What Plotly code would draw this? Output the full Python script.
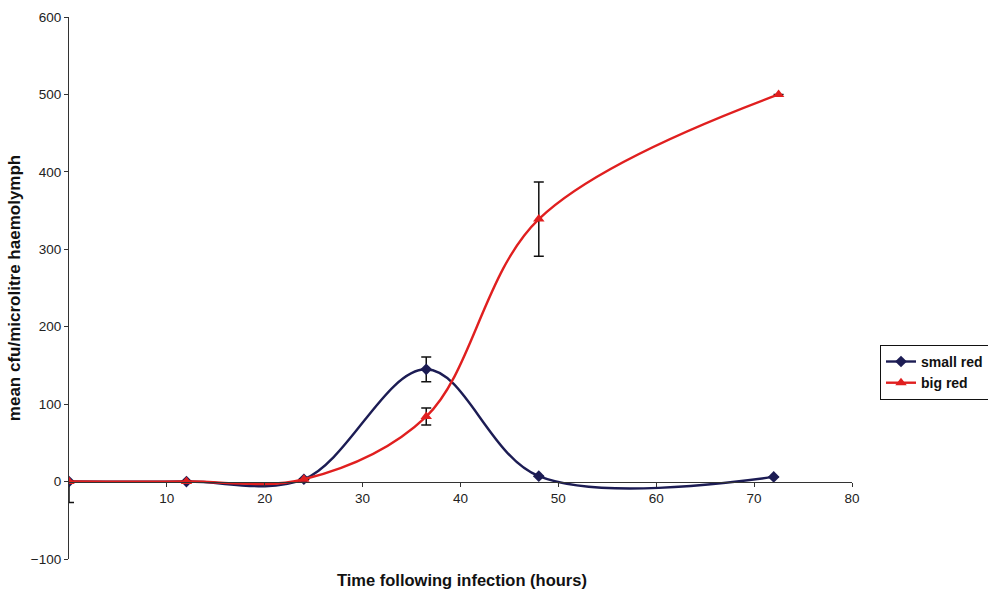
import plotly.graph_objects as go

hours_small = [0, 12, 24, 36.5, 48, 72]
small_red = [0, 0, 3, 145, 7, 6]
small_err_plus = [0, 0, 0, 16, 0, 0]
small_err_minus = [27, 0, 0, 16, 0, 0]

hours_big = [0, 12, 24, 36.5, 48, 72.5]
big_red = [0, 0, 3, 84, 339, 500]
big_err = [0, 0, 0, 11, 48, 0]

x_ticks = [10, 20, 30, 40, 50, 60, 70, 80]
y_ticks = [-100, 0, 100, 200, 300, 400, 500, 600]

NAVY = "#1c1c54"
RED = "#e01f1f"
FONT = "Liberation Sans, Arial, sans-serif"

fig = go.Figure()
fig.add_trace(go.Scatter(
    x=hours_small, y=small_red, name="small red", mode="lines+markers",
    line=dict(color=NAVY, width=2.4, shape="spline", smoothing=1.0),
    marker=dict(symbol="diamond", size=9, color=NAVY),
    error_y=dict(type="data", symmetric=False, array=small_err_plus,
                 arrayminus=small_err_minus, color="#111111", thickness=1.5, width=5),
))
fig.add_trace(go.Scatter(
    x=hours_big, y=big_red, name="big red", mode="lines+markers",
    line=dict(color=RED, width=2.4, shape="spline", smoothing=1.0),
    marker=dict(symbol="triangle-up", size=10, color=RED),
    error_y=dict(type="data", array=big_err, color="#111111", thickness=1.5, width=5),
))

zero_frac = 100 / 700

fig.update_layout(
    width=988, height=593,
    margin=dict(l=69, r=136, t=17, b=34, autoexpand=False),
    paper_bgcolor="white", plot_bgcolor="white",
    font=dict(family=FONT, size=13.5, color="#222222"),
    xaxis=dict(
        range=[0, 80], anchor="free", position=zero_frac,
        tickvals=x_ticks, ticktext=[str(v) for v in x_ticks],
        showline=True, linecolor="#333333", linewidth=1,
        ticks="outside", ticklen=4, tickcolor="#333333",
        showgrid=False, zeroline=False,
        tickfont=dict(size=13.5, family=FONT, color="#222222"),
    ),
    yaxis=dict(
        range=[-100, 600], tickvals=y_ticks,
        showline=True, linecolor="#333333", linewidth=1.2,
        ticks="outside", ticklen=4, tickcolor="#333333",
        showgrid=False, zeroline=False,
        tickfont=dict(size=13.5, family=FONT, color="#222222"),
        title=dict(text="<b>mean cfu/microlitre haemolymph</b>",
                   font=dict(size=17, family=FONT, color="#111111"), standoff=5),
    ),
    legend=dict(
        x=(880 - 69) / 783, y=0.395, xanchor="left", yanchor="top",
        bordercolor="#111111", borderwidth=1, bgcolor="white",
        font=dict(size=14, family=FONT, color="#111111"),
        tracegroupgap=0, itemwidth=30,
    ),
    showlegend=True,
    annotations=[dict(
        text="<b>Time following infection (hours)</b>", xref="paper", yref="paper",
        x=(462 - 69) / 783, y=-21 / 542, xanchor="center", yanchor="middle", showarrow=False,
        font=dict(size=16.5, family=FONT, color="#111111"),
    )],
)

fig.for_each_trace(lambda t: t.update(name="<b>" + t.name + "</b>"))

fig.write_html("out.html")
